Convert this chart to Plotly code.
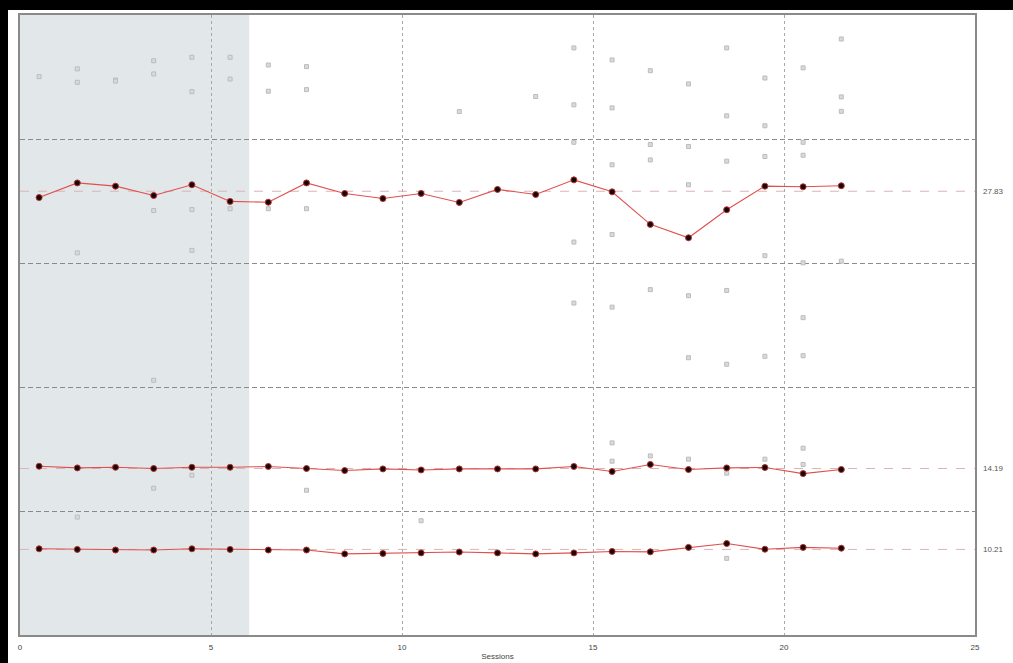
import plotly.graph_objects as go

# ---------------- data ----------------
sessions = [i + 0.5 for i in range(22)]

series_top = [27.52, 28.24, 28.08, 27.62, 28.15, 27.33, 27.29, 28.24, 27.72, 27.47, 27.72,
              27.28, 27.92, 27.67, 28.39, 27.80, 26.20, 25.54, 26.92, 28.08, 28.05, 28.10]
series_mid = [14.30, 14.22, 14.25, 14.19, 14.25, 14.25, 14.29, 14.19, 14.09, 14.17, 14.12,
              14.17, 14.17, 14.17, 14.29, 14.04, 14.39, 14.14, 14.22, 14.24, 13.94, 14.14]
series_low = [10.24, 10.21, 10.18, 10.18, 10.24, 10.21, 10.18, 10.18, 9.99, 10.01, 10.04,
              10.08, 10.04, 9.99, 10.04, 10.11, 10.09, 10.31, 10.50, 10.22, 10.31, 10.27]

ref_values = [27.83, 14.19, 10.21]
ref_labels = ["27.83", "14.19", "10.21"]

trial_x = [0.5,
           1.5, 1.5, 1.5, 1.5,
           2.5, 2.5,
           3.5, 3.5, 3.5, 3.5, 3.5,
           4.5, 4.5, 4.5, 4.5, 4.5,
           5.5, 5.5, 5.5,
           6.5, 6.5, 6.5,
           7.5, 7.5, 7.5, 7.5,
           10.5, 11.5, 13.5,
           14.5, 14.5, 14.5, 14.5, 14.5,
           15.5, 15.5, 15.5, 15.5, 15.5, 15.5, 15.5,
           16.5, 16.5, 16.5, 16.5, 16.5,
           17.5, 17.5, 17.5, 17.5, 17.5, 17.5,
           18.5, 18.5, 18.5, 18.5, 18.5, 18.5, 18.5,
           19.5, 19.5, 19.5, 19.5, 19.5, 19.5,
           20.5, 20.5, 20.5, 20.5, 20.5, 20.5, 20.5, 20.5,
           21.5, 21.5, 21.5, 21.5]
trial_y = [33.47,
           33.85, 33.19, 24.80, 11.80,
           33.30, 33.25,
           34.25, 33.60, 26.88, 18.53, 13.22,
           34.42, 32.73, 26.93, 24.92, 13.86,
           34.42, 33.35, 26.97,
           34.04, 32.75, 26.97,
           33.96, 32.83, 26.97, 13.12,
           11.62, 31.75, 32.49,
           34.88, 32.08, 30.24, 25.33, 22.33,
           34.29, 31.93, 29.13, 25.70, 22.13, 15.45, 14.55,
           33.76, 30.13, 29.37, 22.99, 14.81,
           33.11, 30.03, 28.15, 22.69, 19.64, 14.65,
           34.88, 31.54, 29.31, 22.95, 19.32, 13.96, 9.77,
           33.40, 31.05, 29.54, 24.66, 19.71, 14.65,
           33.90, 30.24, 29.60, 24.31, 21.61, 19.74, 15.19, 14.39,
           35.32, 32.47, 31.76, 24.39]

baseline_end = 6
x_range = [0, 25]
y_range = [6.0, 36.5]

# ---------------- layout geometry ----------------
W, H = 1013, 663
ML, MR, MT, MB = 20, 38, 15, 28
PW, PH = W - ML - MR, H - MT - MB


def px_x(p):
    return (p - ML) / PW


def px_y(p):
    return (H - MB - p) / PH


fig = go.Figure()

# individual trials
fig.add_trace(go.Scatter(
    x=trial_x, y=trial_y, mode="markers",
    marker=dict(symbol="square", size=4, color="#dadada",
                line=dict(color="#bcbcbc", width=1)),
    hoverinfo="x+y", showlegend=False))

for s in (series_top, series_mid, series_low):
    fig.add_trace(go.Scatter(
        x=sessions, y=s, mode="lines+markers",
        line=dict(color="#e0504f", width=1.1),
        marker=dict(symbol="circle", size=6, color="#150808",
                    line=dict(color="#b83030", width=1)),
        showlegend=False))

shapes = []
# white page area (black edge strips at top and left are left uncovered)
shapes.append(dict(type="rect", xref="paper", yref="paper",
                   x0=px_x(8), x1=px_x(W + 5), y0=px_y(H + 5), y1=px_y(10),
                   fillcolor="white", line=dict(width=0), layer="below"))
# baseline shading
shapes.append(dict(type="rect", xref="paper", yref="paper", x0=0,
                   x1=(baseline_end - x_range[0]) / (x_range[1] - x_range[0]),
                   y0=0, y1=1, fillcolor="#e2e7e9", line=dict(width=0), layer="below"))
# reference lines
for v in ref_values:
    shapes.append(dict(type="line", xref="paper", yref="y", x0=0, x1=1, y0=v, y1=v,
                       line=dict(color="#dcb4b4", width=1, dash="dash"), layer="below"))

annotations = []
for v, t in zip(ref_values, ref_labels):
    annotations.append(dict(xref="paper", yref="y", x=px_x(993), y=v, text=t,
                            showarrow=False, xanchor="center", yanchor="middle",
                            font=dict(size=8, color="#555555", family="Liberation Sans")))

n_ticks = 6
y_tickvals = [y_range[0] + i * (y_range[1] - y_range[0]) / (n_ticks - 1) for i in range(n_ticks)]

fig.update_layout(
    width=W, height=H,
    margin=dict(l=ML, r=MR, t=MT, b=MB, pad=0, autoexpand=False),
    paper_bgcolor="black", plot_bgcolor="white",
    shapes=shapes, annotations=annotations,
    font=dict(family="Liberation Sans", size=8, color="#444444"),
    xaxis=dict(range=x_range, dtick=5, tick0=0, showgrid=True, gridcolor="#a8a8a8",
               griddash="3px,3px", gridwidth=1, zeroline=False, automargin=False,
               showline=True, mirror=True, linecolor="#8a8a8a", linewidth=2,
               ticks="", ticklabelstandoff=3,
               title=dict(text="Sessions", standoff=3, font=dict(size=8, color="#444444"))),
    yaxis=dict(range=y_range, tickvals=y_tickvals, showticklabels=False, showgrid=True,
               gridcolor="#8a8a8a", griddash="5px,3px", gridwidth=1, zeroline=False,
               automargin=False,
               showline=True, mirror=True, linecolor="#8a8a8a", linewidth=2,
               ticks=""),
)

fig.write_html(
    "out.html",
    config={"displayModeBar": False},
    post_script="document.body.style.margin='0';document.body.style.overflow='hidden';",
)
